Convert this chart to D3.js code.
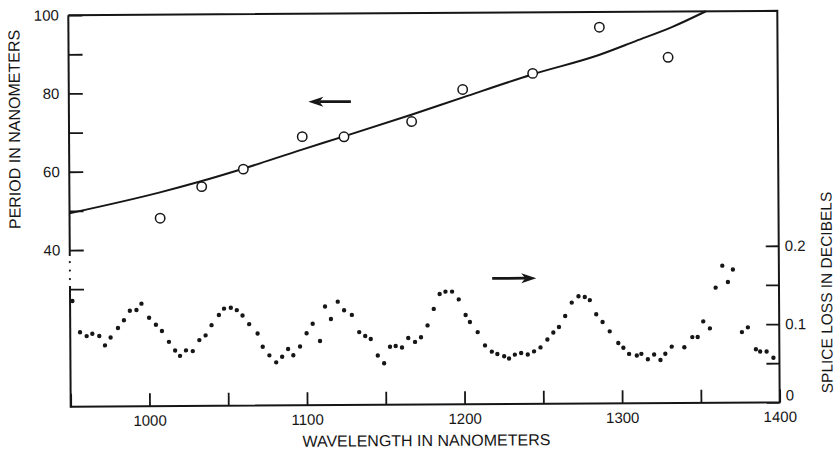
<!DOCTYPE html>
<html>
<head>
<meta charset="utf-8">
<script src="https://cdn.jsdelivr.net/npm/d3@7"></script>
<style>
  html, body { margin: 0; padding: 0; background: #fff; }
  svg { display: block; }
  text { font-family: "Liberation Sans", Arial, Helvetica, sans-serif; fill: #161616; }
</style>
</head>
<body>
<svg id="chart" width="836" height="450"></svg>
<script>
// Fitted grating period (nm) against wavelength (nm)
const curveWavelength = [950, 1007.5, 1033, 1060.3, 1097.8, 1124.5, 1167.8, 1200.2, 1244.7, 1286.6, 1310, 1333, 1354.7];
const curvePeriod     = [49.4, 54.6, 57.3, 60.5, 65.3, 68.6, 74.1, 78.4, 84.2, 89.0, 92.5, 96.0, 100];

// Measured period (open circles)
const periodWavelength = [1007.5, 1034, 1060.5, 1098, 1124.5, 1167.5, 1200, 1244.5, 1287, 1330.5];
const periodValue      = [48.0, 56.0, 60.4, 68.6, 68.5, 72.3, 80.4, 84.4, 96.1, 88.3];

// Splice loss (dB) measured across the spectrum (filled dots)
const lossWavelength = [
  951.5, 956.2, 960.4, 964.0, 968.4, 972.0, 975.6, 980.3, 984.1, 987.9,
  992.1, 995.3, 1000.1, 1004.4, 1008.2, 1012.6, 1016.5, 1019.6, 1023.4, 1027.7,
  1031.9, 1035.9, 1039.7, 1044.4, 1047.7, 1052.0, 1055.8, 1059.4, 1063.6, 1068.9,
  1072.1, 1076.3, 1080.6, 1084.4, 1088.2, 1091.5, 1095.8, 1100.0, 1103.9, 1108.5,
  1111.8, 1115.5, 1119.9, 1123.9, 1128.8, 1133.4, 1137.2, 1140.7, 1145.1, 1149.1,
  1152.9, 1156.5, 1160.5, 1164.5, 1168.8, 1172.6, 1176.8, 1180.8, 1184.6, 1188.3,
  1192.5, 1196.7, 1201.0, 1203.7, 1208.6, 1213.2, 1217.5, 1221.0, 1225.3, 1228.4,
  1232.1, 1236.1, 1240.3, 1244.3, 1248.4, 1252.8, 1256.6, 1260.2, 1264.2, 1268.4,
  1272.7, 1276.7, 1279.9, 1283.9, 1287.9, 1292.4, 1297.8, 1301.0, 1304.6, 1309.5,
  1312.4, 1316.5, 1320.5, 1324.5, 1327.6, 1331.7, 1339.7, 1344.8, 1348.2, 1351.8,
  1356.0, 1359.8, 1364.1, 1367.6, 1370.8, 1376.3, 1380.1, 1385.1, 1387.8, 1391.9, 1396.2
];
const lossValue = [
  0.135, 0.095, 0.090, 0.093, 0.090, 0.078, 0.088, 0.100, 0.110, 0.122,
  0.123, 0.131, 0.113, 0.104, 0.096, 0.082, 0.071, 0.064, 0.071, 0.070,
  0.084, 0.090, 0.103, 0.116, 0.124, 0.125, 0.122, 0.115, 0.104, 0.092,
  0.075, 0.064, 0.055, 0.062, 0.072, 0.064, 0.075, 0.092, 0.104, 0.082,
  0.126, 0.110, 0.132, 0.121, 0.115, 0.093, 0.088, 0.084, 0.063, 0.053,
  0.074, 0.075, 0.073, 0.085, 0.080, 0.086, 0.101, 0.122, 0.141, 0.144,
  0.144, 0.134, 0.114, 0.105, 0.092, 0.075, 0.067, 0.064, 0.061, 0.058,
  0.063, 0.065, 0.063, 0.067, 0.072, 0.082, 0.091, 0.098, 0.112, 0.129,
  0.137, 0.136, 0.132, 0.114, 0.104, 0.092, 0.077, 0.071, 0.063, 0.061,
  0.063, 0.056, 0.062, 0.055, 0.063, 0.072, 0.071, 0.084, 0.084, 0.104,
  0.095, 0.147, 0.175, 0.154, 0.170, 0.090, 0.096, 0.068, 0.065, 0.065, 0.057
];

// Axis ticks and labels
const xTicks = [950, 1000, 1050, 1100, 1150, 1200, 1250, 1300, 1350, 1400];
const xTickLabels = [1000, 1100, 1200, 1300, 1400];
const periodTicks = [30, 40, 50, 60, 70, 80, 90, 100];
const periodTickLabels = [40, 60, 80, 100];
const lossTicks = [0, 0.05, 0.1, 0.15, 0.2];
const lossTickLabels = [0, 0.1, 0.2];

// Direction arrows: which axis each curve belongs to
const periodArrow = { from: 1129, to: 1102, level: 77.5 };
const lossArrow   = { from: 1218, to: 1246, level: 0.1605 };

const ink = "#161616";
const frame = { left: 69.5, right: 778.5, top: 13, bottom: 404.5 };

const svg = d3.select("#chart");
svg.append("rect").attr("width", 836).attr("height", 450).attr("fill", "#fff");

// The printed figure sits very slightly askew on the page
const g = svg.append("g")
  .attr("transform", `rotate(-0.35, ${(frame.left + frame.right) / 2}, ${(frame.top + frame.bottom) / 2})`);

const x = d3.scaleLinear().domain([950, 1400]).range([frame.left, frame.right]);
const yPeriod = d3.scaleLinear().domain([0, 100]).range([frame.bottom, frame.top]);
// 0.2 dB lines up with 40 nm on the opposite axis
const yLoss = d3.scaleLinear().domain([0, 0.5]).range([frame.bottom, frame.top]);

const tickFont = 15;

// Bottom axis
const xAxis = d3.axisBottom(x)
  .tickValues(xTicks)
  .tickSize(-13)
  .tickPadding(9)
  .tickFormat(d => xTickLabels.includes(d) ? d3.format("d")(d) : "");
const gx = g.append("g").attr("transform", `translate(0,${frame.bottom})`).call(xAxis);

// Left axis (period)
const yAxisL = d3.axisLeft(yPeriod)
  .tickValues(periodTicks)
  .tickSize(-14)
  .tickPadding(9.5)
  .tickFormat(d => periodTickLabels.includes(d) ? String(d) : "");
const gyl = g.append("g").attr("transform", `translate(${frame.left},0)`).call(yAxisL);

// Right axis (splice loss)
const yAxisR = d3.axisRight(yLoss)
  .tickValues(lossTicks)
  .tickSize(-13)
  .tickPadding(6)
  .tickFormat(d => lossTickLabels.includes(d) ? (d === 0 ? "0" : d3.format(".1f")(d)) : "");
const gyr = g.append("g").attr("transform", `translate(${frame.right},0)`).call(yAxisR);

[gx, gyl, gyr].forEach(a => {
  a.select(".domain").remove();
  a.selectAll(".tick line").attr("stroke", ink).attr("stroke-width", 1.8);
  a.selectAll(".tick text").attr("fill", ink).style("font-size", tickFont + "px")
    .style("font-family", '"Liberation Sans", Arial, Helvetica, sans-serif');
});
// Lift the "0" off the baseline so it clears the 1400 label
gyr.selectAll(".tick").filter(d => d === 0).select("text").attr("dy", "-0.15em");

// Frame: top, right and bottom edges
g.append("path")
  .attr("d", `M${frame.left},${frame.top} H${frame.right} V${frame.bottom} H${frame.left}`)
  .attr("fill", "none").attr("stroke", ink).attr("stroke-width", 2)
  .attr("stroke-linejoin", "miter");

// Left edge with a dotted break between the two scales
const breakTop = yPeriod(40) + 6;
const breakBottom = yPeriod(40) + 36;
g.append("line").attr("x1", frame.left).attr("x2", frame.left)
  .attr("y1", frame.top).attr("y2", breakTop)
  .attr("stroke", ink).attr("stroke-width", 2);
g.append("line").attr("x1", frame.left).attr("x2", frame.left)
  .attr("y1", breakBottom).attr("y2", frame.bottom + 1)
  .attr("stroke", ink).attr("stroke-width", 2);
g.selectAll(".break-dot")
  .data([12, 20.5, 29])
  .join("circle")
  .attr("cx", frame.left)
  .attr("cy", d => yPeriod(40) + d)
  .attr("r", 1.1)
  .attr("fill", ink);

// Fitted period curve
const line = d3.line()
  .x(d => x(d[0]))
  .y(d => yPeriod(d[1]))
  .curve(d3.curveMonotoneX);
g.append("path")
  .datum(d3.zip(curveWavelength, curvePeriod))
  .attr("d", line)
  .attr("fill", "none")
  .attr("stroke", ink)
  .attr("stroke-width", 2);

// Measured period: open circles
g.selectAll(".period-pt")
  .data(d3.zip(periodWavelength, periodValue))
  .join("circle")
  .attr("class", "period-pt")
  .attr("cx", d => x(d[0]))
  .attr("cy", d => yPeriod(d[1]))
  .attr("r", 4.7)
  .attr("fill", "#fff")
  .attr("stroke", ink)
  .attr("stroke-width", 1.5);

// Splice loss: filled dots
g.selectAll(".loss-pt")
  .data(d3.zip(lossWavelength, lossValue))
  .join("circle")
  .attr("class", "loss-pt")
  .attr("cx", d => x(d[0]))
  .attr("cy", d => yLoss(d[1]))
  .attr("r", 2.2)
  .attr("fill", ink);

// Arrow helper: shaft plus barbed head
function arrow(x0, x1, y) {
  const dir = Math.sign(x1 - x0);
  const headLen = 15, headHalf = 5, notch = 11;
  g.append("line")
    .attr("x1", x0).attr("x2", x1 - dir * notch)
    .attr("y1", y).attr("y2", y)
    .attr("stroke", ink).attr("stroke-width", 2.8);
  g.append("path")
    .attr("d", `M${x1},${y} L${x1 - dir * headLen},${y - headHalf} L${x1 - dir * notch},${y} L${x1 - dir * headLen},${y + headHalf} Z`)
    .attr("fill", ink);
}
arrow(x(periodArrow.from), x(periodArrow.to), yPeriod(periodArrow.level));
arrow(x(lossArrow.from), x(lossArrow.to), yLoss(lossArrow.level));

// Axis titles
g.append("text")
  .attr("x", 425).attr("y", 446)
  .attr("text-anchor", "middle")
  .style("font-size", "16px")
  .text("WAVELENGTH IN NANOMETERS");

g.append("text")
  .attr("transform", "translate(20.5,127) rotate(-90)")
  .attr("text-anchor", "middle")
  .style("font-size", "16px")
  .text("PERIOD IN NANOMETERS");

g.append("text")
  .attr("transform", "translate(831.5,295) rotate(-90)")
  .attr("text-anchor", "middle")
  .style("font-size", "15.5px")
  .text("SPLICE LOSS IN DECIBELS");
</script>
</body>
</html>
